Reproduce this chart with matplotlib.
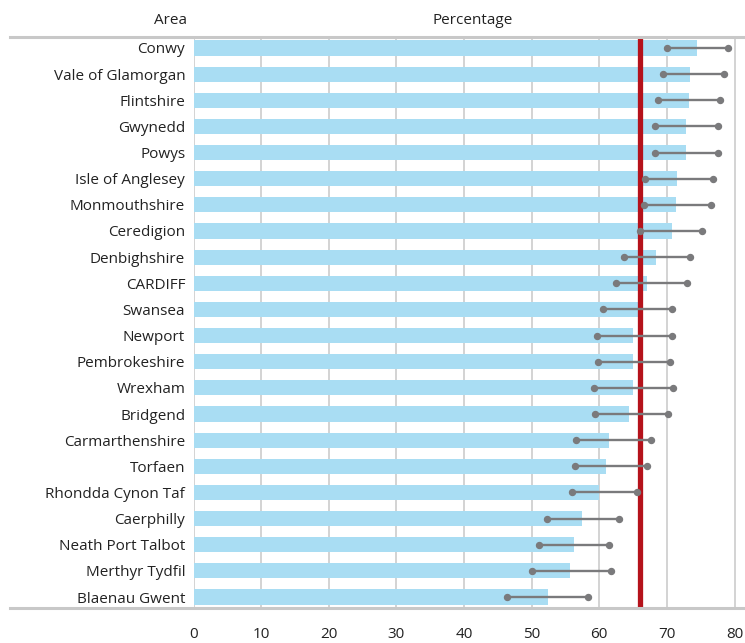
import matplotlib.pyplot as plt
from matplotlib.lines import Line2D

plt.rcParams['font.family'] = ['Open Sans', 'DejaVu Sans']

areas = ['Conwy', 'Vale of Glamorgan', 'Flintshire', 'Gwynedd', 'Powys',
         'Isle of Anglesey', 'Monmouthshire', 'Ceredigion', 'Denbighshire',
         'CARDIFF', 'Swansea', 'Newport', 'Pembrokeshire', 'Wrexham',
         'Bridgend', 'Carmarthenshire', 'Torfaen', 'Rhondda Cynon Taf',
         'Caerphilly', 'Neath Port Talbot', 'Merthyr Tydfil', 'Blaenau Gwent']
pct = [74.5, 73.4, 73.2, 72.8, 72.8, 71.5, 71.4, 70.7, 68.4, 67.1, 65.9,
       65.0, 65.0, 65.0, 64.4, 61.4, 61.0, 60.0, 57.4, 56.2, 55.6, 52.4]
ci_low = [70.0, 69.4, 68.7, 68.2, 68.2, 66.8, 66.6, 66.0, 63.7, 62.5, 60.6,
          59.6, 59.8, 59.2, 59.4, 56.6, 56.4, 55.9, 52.3, 51.1, 50.0, 46.4]
ci_high = [79.0, 78.4, 77.9, 77.6, 77.6, 76.8, 76.5, 75.2, 73.4, 72.9, 70.8,
           70.8, 70.4, 70.9, 70.1, 67.6, 67.1, 65.6, 62.9, 61.4, 61.7, 58.3]
wales = 66.0
xticks = [0, 10, 20, 30, 40, 50, 60, 70, 80]

W, H = 745, 643
fig = plt.figure(figsize=(W / 100, H / 100), dpi=100)
ax = fig.add_axes([193.5 / W, 1 - 608 / H, (W - 193.5) / W, (608 - 37) / H])

y = list(range(len(areas)))
ax.barh(y, pct, height=0.58, color='#a9ddf3', zorder=2)
ax.hlines(y, ci_low, ci_high, color='#7a7a7c', lw=1.7, zorder=4)
ax.plot(ci_low, y, 'o', color='#7a7a7c', ms=4.3, zorder=5)
ax.plot(ci_high, y, 'o', color='#7a7a7c', ms=4.3, zorder=5)
ax.axvline(wales, color='#b5121b', lw=3.8, zorder=3)

ax.set_xlim(0, 81.55)
ax.set_ylim(len(areas) - 0.58, -0.42)
ax.set_xticks(xticks)
ax.set_yticks(y)
ax.set_yticklabels(areas)
ax.tick_params(length=0, labelsize=11, colors='#222222')
ax.tick_params(axis='x', pad=14)
ax.tick_params(axis='y', pad=6)
ax.grid(axis='x', color='#cccccc', lw=1.2, zorder=0)
for s in ax.spines.values():
    s.set_visible(False)

# top and bottom rules
for yy in (37, 608):
    fig.add_artist(Line2D([10 / W, 1], [1 - yy / H] * 2, color='#c8c8c8', lw=2.2))

fig.text(187 / W, 1 - 20 / H, 'Area', ha='right', va='center', fontsize=11, color='#222222')
fig.text(473 / W, 1 - 20 / H, 'Percentage', ha='center', va='center', fontsize=11, color='#222222')

fig.savefig('out.png', dpi=100)
